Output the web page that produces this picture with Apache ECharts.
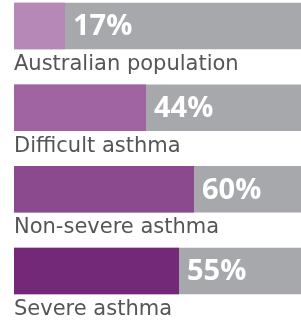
<!DOCTYPE html>
<html>
<head>
<meta charset="utf-8">
<script src="https://cdn.jsdelivr.net/npm/echarts@6/dist/echarts.min.js"></script>
<style>
  html, body { margin: 0; padding: 0; background: #fff; }
  #chart { width: 301px; height: 320px; }
</style>
</head>
<body>
<div id="chart"></div>
<script>
    'use strict';

    var categories = ['Australian population', 'Difficult asthma', 'Non-severe asthma', 'Severe asthma'];
    var values = [17, 44, 60, 55];
    var barColors = ['#b588b8', '#a064a2', '#8c4a8e', '#732878'];

    var myChart = echarts.init(document.getElementById('chart'));

    var option = {
        animation: false,
        // 100% would sit past the right edge; gray track is cut at the canvas edge (287px = 95.67%)
        grid: { left: 14, right: 0, top: 26, height: 249.6, containLabel: false },
        xAxis: { type: 'value', min: 0, max: 95.67, show: false },
        yAxis: {
            type: 'category',
            data: categories,
            inverse: true,
            boundaryGap: false,
            axisLine: { show: false },
            axisTick: { show: false },
            splitLine: { show: false },
            axisLabel: {
                inside: true,
                margin: 0,
                align: 'left',
                verticalAlign: 'top',
                padding: [28, 0, 0, 0],
                fontFamily: 'DejaVu Sans',
                fontSize: 21,
                color: '#555'
            }
        },
        series: [{
            type: 'bar',
            barWidth: 46.5,
            showBackground: true,
            backgroundStyle: { color: '#a7a8ab' },
            data: values.map(function(v, i) {
                return { value: v, itemStyle: { color: barColors[i] } };
            }),
            label: {
                show: true,
                position: 'right',
                distance: 8,
                offset: [0, 1],
                formatter: '{c}%',
                color: '#fff',
                fontFamily: 'Open Sans',
                fontWeight: 'bold',
                fontSize: 29
            }
        }]
    };

    myChart.setOption(option);
</script>
</body>
</html>
